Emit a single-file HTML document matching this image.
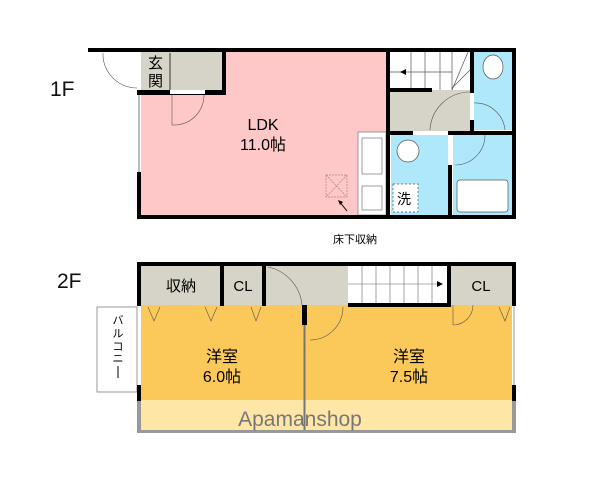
<!DOCTYPE html>
<html><head><meta charset="utf-8"><style>
html,body{margin:0;padding:0;background:#fff;}
svg{display:block;font-family:"Liberation Sans","Noto Sans CJK JP",sans-serif;}
</style></head><body>
<svg width="600" height="480" viewBox="0 0 600 480" xmlns="http://www.w3.org/2000/svg">
<rect width="600" height="480" fill="#fff"/>
<text x="50" y="96" font-size="21" fill="#111">1F</text>
<text x="57" y="288" font-size="21" fill="#111">2F</text>

<!-- 1F -->
<rect x="141" y="52" width="245" height="163" fill="#ffc8c8"/>
<rect x="141" y="52" width="81" height="39" fill="#d6d3c8"/>
<line x1="170" y1="53" x2="170" y2="90" stroke="#333" stroke-width="1"/>
<text x="148" y="68" font-size="15">玄</text>
<text x="148" y="86" font-size="15">関</text>
<rect x="390" y="52" width="80" height="38" fill="#fff"/>
<g stroke="#555" stroke-width="0.7" fill="none">
<line x1="411" y1="52" x2="411" y2="90"/><line x1="425" y1="52" x2="425" y2="90"/><line x1="440" y1="52" x2="440" y2="90"/><line x1="452" y1="52" x2="452" y2="90"/>
<line x1="390" y1="72" x2="452" y2="72"/><line x1="452" y1="90" x2="468" y2="52"/><line x1="452" y1="88" x2="470" y2="70"/>
</g>
<polygon points="400,72 406,69 406,75" fill="#000"/>
<rect x="390" y="90" width="80" height="41" fill="#d6d3c8"/>
<rect x="474" y="52" width="38" height="78" fill="#aee8fa"/>
<ellipse cx="493" cy="67" rx="10" ry="12" fill="#fff" stroke="#555" stroke-width="0.7"/>
<rect x="391" y="135" width="57" height="80" fill="#aee8fa"/>
<rect x="453" y="135" width="59" height="80" fill="#aee8fa"/>
<rect x="457" y="180" width="51" height="32" rx="3" fill="#fff" stroke="#555" stroke-width="0.7"/>
<circle cx="408" cy="151" r="11" fill="#fff" stroke="#555" stroke-width="0.7"/>
<rect x="393" y="184" width="25" height="28" fill="#fff" stroke="#555" stroke-width="0.7" stroke-dasharray="2,2"/>
<text x="397" y="204" font-size="14">洗</text>
<rect x="358" y="132" width="28" height="83" fill="#fff" stroke="#777" stroke-width="0.7"/>
<rect x="362" y="138" width="20" height="36" fill="#fff" stroke="#777" stroke-width="0.7"/>
<rect x="362" y="186" width="20" height="24" fill="#fff" stroke="#777" stroke-width="0.7"/>
<g stroke="#b08080" stroke-width="0.7" fill="none" stroke-dasharray="2,1">
<rect x="326" y="175" width="21" height="22"/><line x1="326" y1="175" x2="347" y2="197"/><line x1="347" y1="175" x2="326" y2="197"/></g>
<line x1="347" y1="211" x2="339" y2="201" stroke="#000" stroke-width="1"/>
<polygon points="338,200 343,202 340,205" fill="#000"/>
<text x="333" y="243" font-size="11">床下収納</text>
<g stroke="#555" stroke-width="0.6" fill="none">
<path d="M103 53 A34 34 0 0 0 137 88"/><path d="M172 94 L172 125 A30 30 0 0 0 204 94"/>
<path d="M430 130 A40 40 0 0 1 470 92"/><path d="M474 103 A30 30 0 0 1 505 130"/>
<path d="M455 165 A30 30 0 0 0 485 135"/>
</g>
<g fill="#000">
<rect x="88" y="48" width="428" height="4"/>
<rect x="137" y="90" width="88" height="5"/><rect x="170" y="90" width="35" height="4" fill="#fff"/>
<rect x="222" y="48" width="4" height="47"/>
<rect x="137" y="172" width="4" height="47"/>
<rect x="137" y="215" width="379" height="4"/>
<rect x="386" y="48" width="4" height="84"/><rect x="386" y="132" width="4" height="87"/>
<rect x="470" y="48" width="4" height="45"/><rect x="470" y="120" width="4" height="14"/>
<rect x="390" y="131" width="126" height="4"/><rect x="413" y="131" width="35" height="4" fill="#fff"/>
<rect x="448" y="135" width="4" height="84"/><rect x="448" y="135" width="4" height="30" fill="#fff"/>
<rect x="512" y="48" width="4" height="171"/>
<rect x="390" y="88" width="42" height="4"/>
</g>
<line x1="139" y1="95" x2="139" y2="172" stroke="#777" stroke-width="1"/>
<text x="263" y="130" font-size="16" text-anchor="middle">LDK</text>
<text x="263" y="150" font-size="16" text-anchor="middle">11.0帖</text>

<!-- 2F -->
<rect x="141" y="305" width="371" height="96" fill="#fac95a"/>
<rect x="141" y="400" width="371" height="30" fill="#fde6a6"/>
<rect x="137" y="400" width="4" height="33" fill="#999"/><rect x="137" y="430" width="379" height="3" fill="#999"/><rect x="512" y="400" width="4" height="33" fill="#999"/>
<rect x="141" y="266" width="80" height="39" fill="#d6d3c8"/>
<rect x="224" y="266" width="38" height="39" fill="#d6d3c8"/>
<rect x="266" y="266" width="82" height="39" fill="#d6d3c8"/>
<rect x="348" y="266" width="99" height="37" fill="#fff"/>
<g stroke="#666" stroke-width="0.6">
<line x1="362" y1="266" x2="362" y2="303"/><line x1="376" y1="266" x2="376" y2="303"/><line x1="390" y1="266" x2="390" y2="303"/><line x1="404" y1="266" x2="404" y2="303"/><line x1="418" y1="266" x2="418" y2="303"/><line x1="432" y1="266" x2="432" y2="303"/>
<line x1="348" y1="284" x2="438" y2="284"/></g>
<polygon points="443,284 437,281 437,287" fill="#000"/>
<rect x="451" y="266" width="61" height="39" fill="#d6d3c8"/>
<text x="181" y="291" font-size="15" text-anchor="middle">収納</text>
<text x="243" y="291" font-size="15" text-anchor="middle">CL</text>
<text x="481" y="291" font-size="15" text-anchor="middle">CL</text>
<rect x="97" y="307" width="40" height="85" fill="#fff" stroke="#999" stroke-width="1"/>
<g font-size="11" text-anchor="middle">
<text x="118" y="324">バ</text><text x="118" y="337">ル</text><text x="118" y="350">コ</text><text x="118" y="362">ニ</text>
</g>
<line x1="118" y1="366" x2="118" y2="378" stroke="#000" stroke-width="1"/>
<g stroke="#555" stroke-width="0.6" fill="none">
<path d="M268 267 A43 43 0 0 1 302 305"/><path d="M310 340 A33 33 0 0 0 343 307"/>
<path d="M453 325 L453 305 M453 325 A20 20 0 0 0 473 305"/>
<path d="M148 307 L154 321 L160 307"/><path d="M205 307 L211 321 L217 307"/><path d="M251 307 L256 321 L261 307"/><path d="M499 307 L505 321 L510 307"/>
</g>
<g fill="#000">
<rect x="137" y="262" width="379" height="4"/>
<rect x="137" y="262" width="4" height="44"/><rect x="137" y="385" width="4" height="16"/>
<rect x="220" y="262" width="4" height="44"/><rect x="262" y="262" width="4" height="44"/>
<rect x="447" y="262" width="4" height="44"/>
<rect x="348" y="303" width="103" height="4"/>
<rect x="512" y="262" width="4" height="44"/><rect x="512" y="385" width="4" height="16"/>
<rect x="302" y="305" width="5" height="20"/>
</g>
<line x1="304.5" y1="325" x2="304.5" y2="430" stroke="#777" stroke-width="2"/>
<line x1="514" y1="306" x2="514" y2="385" stroke="#999" stroke-width="1"/>
<text x="222" y="362" font-size="16" text-anchor="middle">洋室</text>
<text x="222" y="382" font-size="16" text-anchor="middle">6.0帖</text>
<text x="409" y="362" font-size="16" text-anchor="middle">洋室</text>
<text x="409" y="382" font-size="16" text-anchor="middle">7.5帖</text>
<text x="300" y="426" font-size="21" fill="#777" text-anchor="middle">Apamanshop</text>
</svg>
</body></html>
